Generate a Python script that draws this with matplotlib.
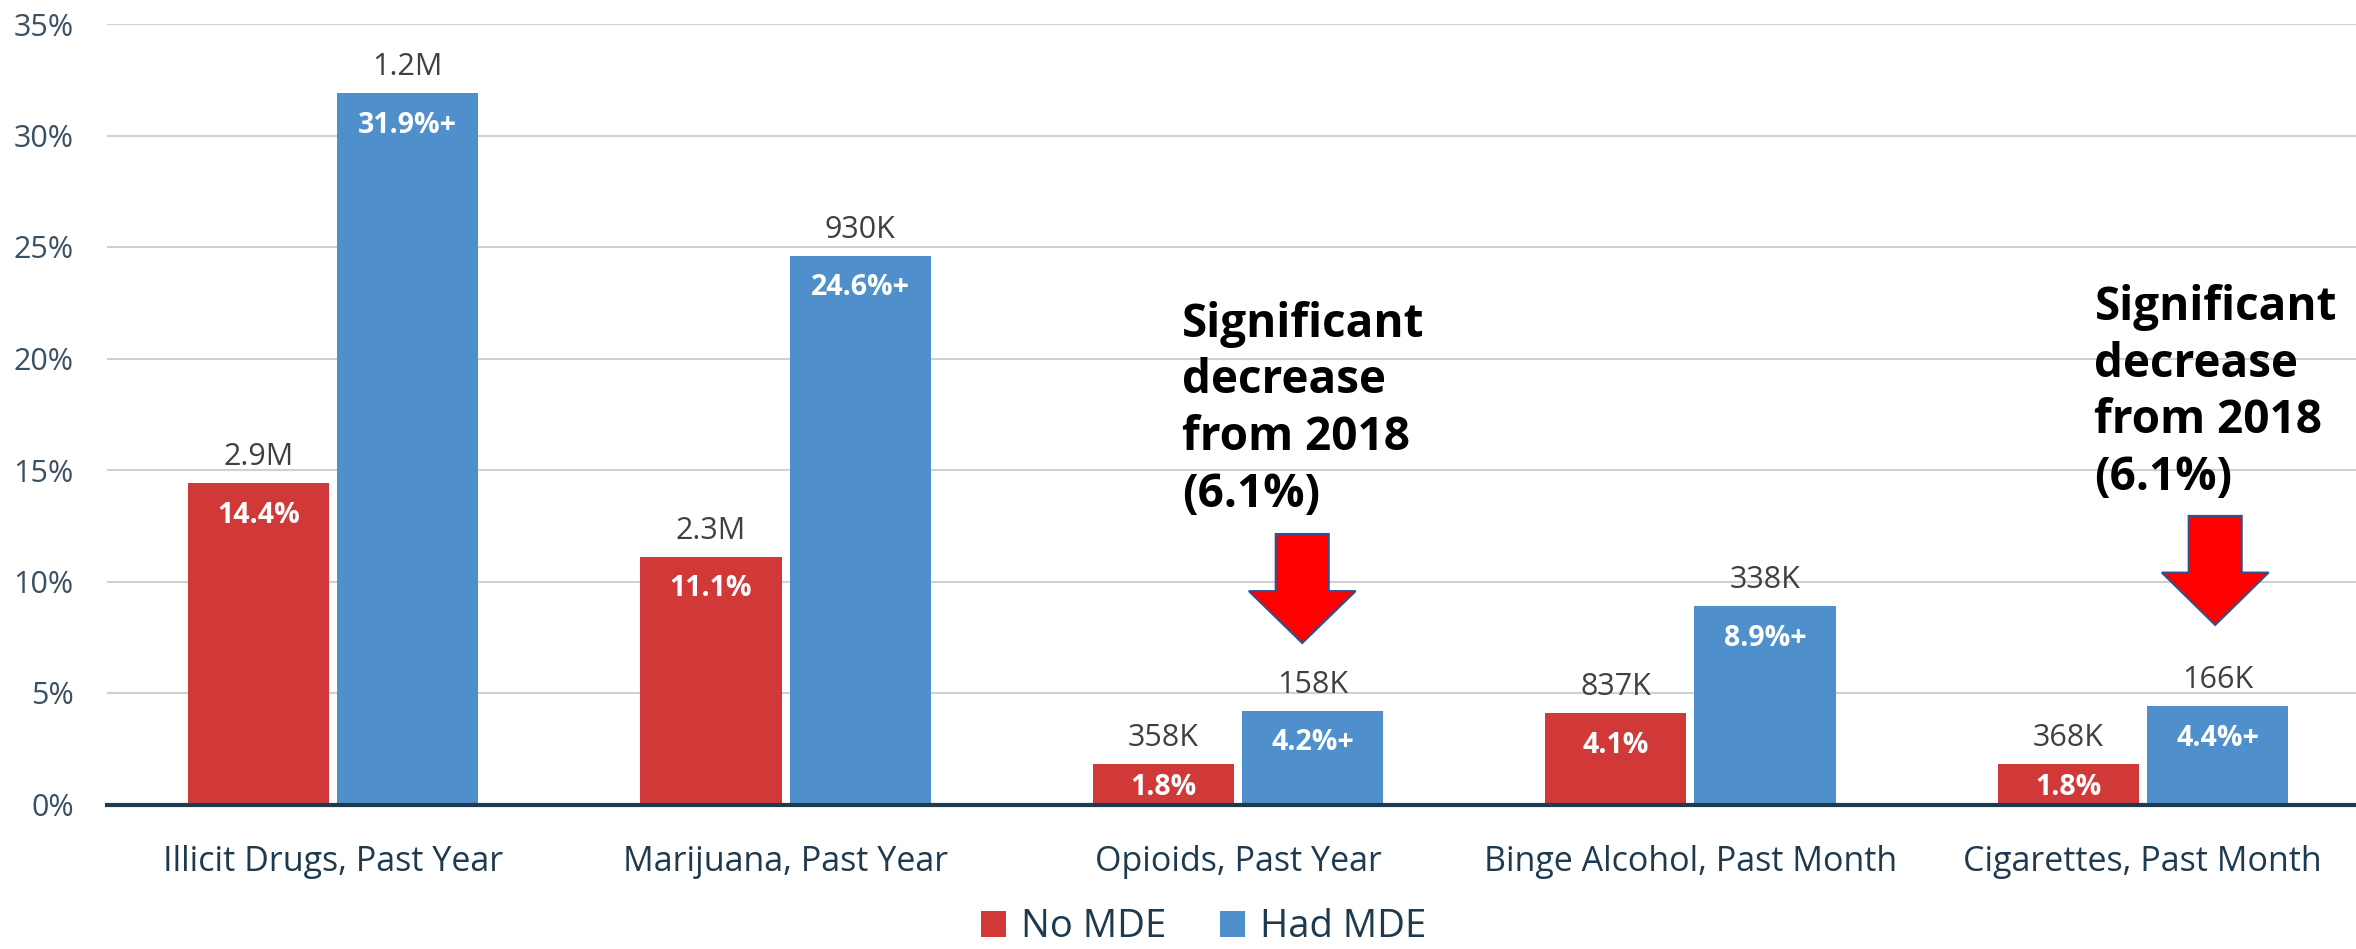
import numpy as np
import matplotlib
matplotlib.use("Agg")
import matplotlib.pyplot as plt
from matplotlib.patches import Polygon, Patch

plt.rcParams["font.family"] = ["Open Sans", "DejaVu Sans"]

categories = ["Illicit Drugs, Past Year", "Marijuana, Past Year", "Opioids, Past Year",
              "Binge Alcohol, Past Month", "Cigarettes, Past Month"]
no_mde = [14.4, 11.1, 1.8, 4.1, 1.8]
had_mde = [31.9, 24.6, 4.2, 8.9, 4.4]
no_mde_counts = ["2.9M", "2.3M", "358K", "837K", "368K"]
had_mde_counts = ["1.2M", "930K", "158K", "338K", "166K"]
had_mde_flags = ["+", "+", "+", "+", "+"]
note_cats = [2, 4]   # categories with the "significant decrease" note
note_text = "Significant\ndecrease\nfrom 2018\n(6.1%)"

RED = "#D13838"
BLUE = "#4F90CC"
NAVY = "#1F3A4F"

fig = plt.figure(figsize=(23.56, 9.49), dpi=100)
ax = fig.add_axes([107 / 2356, 1 - 804.5 / 949, 2262 / 2356, (804.5 - 24) / 949])

x = np.arange(len(categories))
w = 0.312
off = 0.165
b1 = ax.bar(x - off, no_mde, w, color=RED, zorder=3)
b2 = ax.bar(x + off, had_mde, w, color=BLUE, zorder=3)

ax.set_ylim(0, 35)
ax.set_xlim(-0.5, len(categories) - 0.5)
ax.set_yticks(np.arange(0, 36, 5))
ax.set_yticklabels([f"{v}%" for v in range(0, 36, 5)], fontsize=22, color="#3B5063")
ax.set_xticks(x)
ax.set_xticklabels(categories, fontsize=24.5, color=NAVY)
ax.tick_params(axis="both", length=0)
ax.tick_params(axis="y", pad=24)
ax.tick_params(axis="x", pad=29)
ax.yaxis.grid(True, color="#D0D0D0", linewidth=1.5, zorder=0)
for s in ["top", "right", "left"]:
    ax.spines[s].set_visible(False)
ax.spines["bottom"].set_color(NAVY)
ax.spines["bottom"].set_linewidth(3)
ax.spines["bottom"].set_zorder(4)

px_per_pct = 111.5 / 5


def label_bars(bars, vals, counts, flags):
    for rect, v, c, f in zip(bars, vals, counts, flags):
        cx = rect.get_x() + rect.get_width() / 2
        ax.annotate(c, (cx, v), xytext=(0, 13), textcoords="offset points",
                    ha="center", va="baseline", fontsize=22, color="#404040")
        h_px = v * px_per_pct
        down = min(32, h_px / 2 + 3) / (100 / 72)
        ax.annotate(f"{v:.1f}%{f}", (cx, v), xytext=(0, -down), textcoords="offset points",
                    ha="center", va="center", fontsize=20.5, fontweight="bold", color="white",
                    zorder=5)


label_bars(b1, no_mde, no_mde_counts, [""] * len(no_mde))
label_bars(b2, had_mde, had_mde_counts, had_mde_flags)

# notes with red down arrows over the Had MDE bars
arrow_shift = [-0.023, -0.005]
arrow_y = [(12.13, 9.57, 7.24), (12.94, 10.40, 8.05)]
text_pos = [(1.876, 22.6), (3.893, 23.35)]
for i, c in enumerate(note_cats):
    cx = c + off + arrow_shift[i]
    top, base, tip = arrow_y[i]
    sw, hw = 0.0586, 0.118
    verts = [(cx - sw, top), (cx + sw, top), (cx + sw, base), (cx + hw, base),
             (cx, tip), (cx - hw, base), (cx - sw, base)]
    ax.add_patch(Polygon(verts, closed=True, facecolor="#FF0000", edgecolor="#2F528F",
                         linewidth=1.5, zorder=6))
    tx, ty = text_pos[i]
    ax.text(tx, ty, note_text, ha="left", va="top", fontsize=33, fontweight="bold",
            color="black", linespacing=1.27, zorder=6)

handles = [Patch(facecolor=RED), Patch(facecolor=BLUE)]
fig.legend(handles, ["No MDE", "Had MDE"], loc="center", bbox_to_anchor=(0.511, 0.023),
           ncol=2, frameon=False, fontsize=27.5, labelcolor=NAVY, handlelength=0.65,
           handleheight=0.65, handletextpad=0.4, columnspacing=1.4, borderpad=0.1)

fig.savefig("out.png", dpi=100, facecolor="white")
